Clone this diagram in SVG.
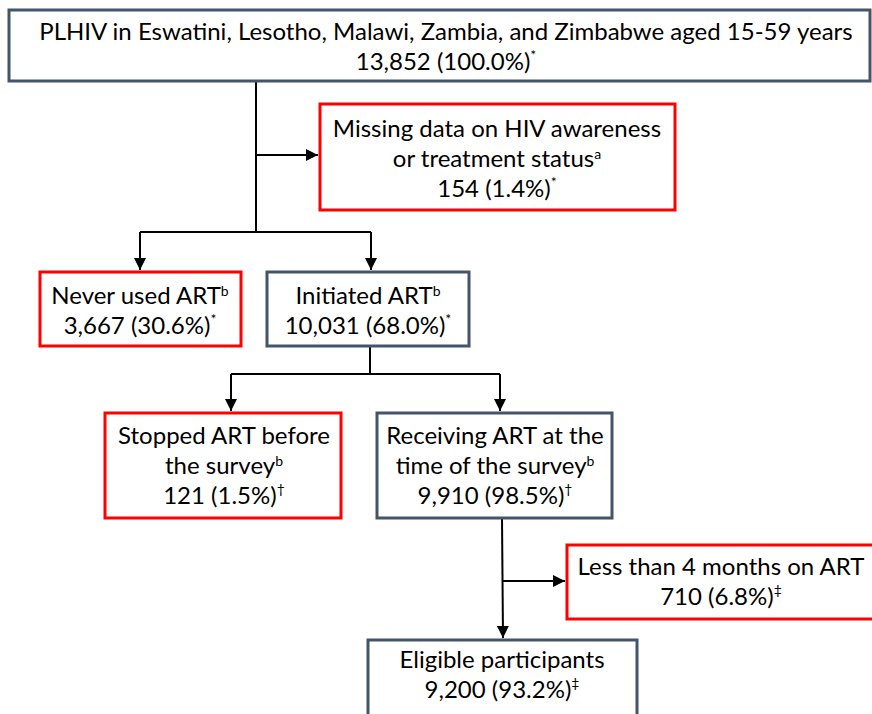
<svg xmlns="http://www.w3.org/2000/svg" width="872" height="714" viewBox="0 0 872 714">
<style>
text{font-family:Lato,"Open Sans","Liberation Sans",sans-serif;font-size:24px;fill:#000;text-anchor:middle}
.sup{font-size:14px}
.slate{fill:#fff;stroke:#44546A;stroke-width:3}
.red{fill:#fff;stroke:#FF0000;stroke-width:3}
.c{fill:none;stroke:#000;stroke-width:2}
</style>
<defs>
<marker id="ah" viewBox="0 0 10 10" refX="10" refY="5" markerWidth="6" markerHeight="6" markerUnits="strokeWidth" orient="auto">
<path d="M0,0 L10,5 L0,10 Z" fill="#000"/>
</marker>
</defs>
<rect width="872" height="714" fill="#fff"/>
<g id="connectors">
<path class="c" d="M256,81 V232"/>
<path class="c" d="M256,155 H318" marker-end="url(#ah)"/>
<path class="c" d="M140,232 H371"/>
<path class="c" d="M140,232 V270" marker-end="url(#ah)"/>
<path class="c" d="M371,232 V270" marker-end="url(#ah)"/>
<path class="c" d="M370,346 V374"/>
<path class="c" d="M231,374 H500"/>
<path class="c" d="M231,374 V411" marker-end="url(#ah)"/>
<path class="c" d="M500,374 V411" marker-end="url(#ah)"/>
<path class="c" d="M502,518 L503,638" marker-end="url(#ah)"/>
<path class="c" d="M503,581 H565" marker-end="url(#ah)"/>
</g>
<g id="n_plhiv">
<rect class="slate" x="9" y="10" width="861" height="71"/>
<text x="446" y="40">PLHIV in Eswatini, Lesotho, Malawi, Zambia, and Zimbabwe aged 15-59 years</text>
<text x="446" y="70">13,852 (100.0%)<tspan class="sup" dy="-10">*</tspan></text>
</g>
<g id="n_missing">
<rect class="red" x="320" y="104" width="355" height="106"/>
<text x="497" y="137">Missing data on HIV awareness</text>
<text x="497" y="167">or treatment status<tspan class="sup" dy="-8">a</tspan></text>
<text x="497" y="197">154 (1.4%)<tspan class="sup" dy="-10">*</tspan></text>
</g>
<g id="n_never">
<rect class="red" x="40" y="272" width="201" height="74"/>
<text x="140" y="304">Never used ART<tspan class="sup" dy="-8">b</tspan></text>
<text x="140" y="334">3,667 (30.6%)<tspan class="sup" dy="-10">*</tspan></text>
</g>
<g id="n_initiated">
<rect class="slate" x="267" y="272" width="202" height="74"/>
<text x="368" y="304">Initiated ART<tspan class="sup" dy="-8">b</tspan></text>
<text x="368" y="334">10,031 (68.0%)<tspan class="sup" dy="-10">*</tspan></text>
</g>
<g id="n_stopped">
<rect class="red" x="105" y="413" width="236" height="105"/>
<text x="224" y="444">Stopped ART before</text>
<text x="224" y="474">the survey<tspan class="sup" dy="-8">b</tspan></text>
<text x="224" y="504">121 (1.5%)<tspan class="sup" dy="-10">†</tspan></text>
</g>
<g id="n_receiving">
<rect class="slate" x="377" y="413" width="235" height="105"/>
<text x="495" y="444">Receiving ART at the</text>
<text x="495" y="474">time of the survey<tspan class="sup" dy="-8">b</tspan></text>
<text x="495" y="504">9,910 (98.5%)<tspan class="sup" dy="-10">†</tspan></text>
</g>
<g id="n_less4">
<rect class="red" x="567" y="545" width="310" height="74"/>
<text x="721" y="575">Less than 4 months on ART</text>
<text x="721" y="605">710 (6.8%)<tspan class="sup" dy="-10">‡</tspan></text>
</g>
<g id="n_eligible">
<rect class="slate" x="368" y="640" width="269" height="80"/>
<text x="502" y="668">Eligible participants</text>
<text x="502" y="698">9,200 (93.2%)<tspan class="sup" dy="-10">‡</tspan></text>
</g>
</svg>
